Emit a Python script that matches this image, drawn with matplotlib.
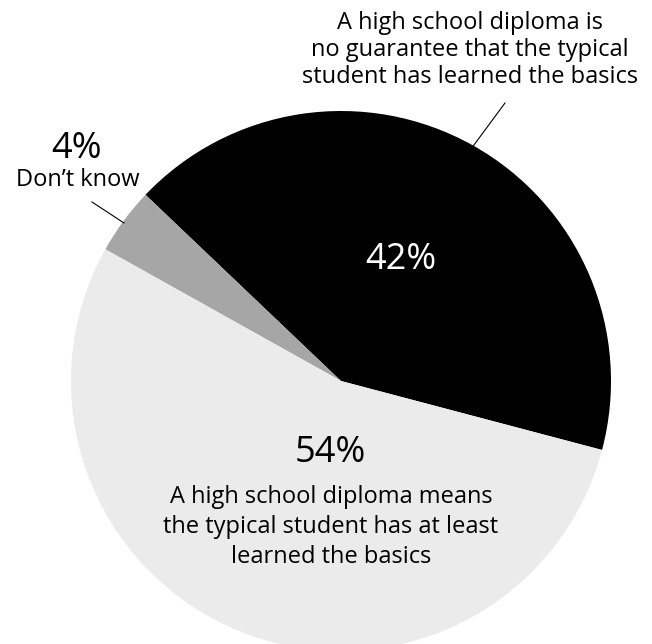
import matplotlib
matplotlib.use("Agg")
import matplotlib.pyplot as plt

# survey answers (percent)
labels = ["A high school diploma is\nno guarantee that the typical\nstudent has learned the basics",
          "Don’t know",
          "A high school diploma means\nthe typical student has at least\nlearned the basics"]
values = [42, 4, 54]
colors = ["#000000", "#a6a6a6", "#ebebeb"]

plt.rcParams['font.family'] = ['Open Sans', 'DejaVu Sans']

W, H = 652, 644
fig = plt.figure(figsize=(W / 100, H / 100), dpi=100)
ax = fig.add_axes([0, 0, 1, 1])

cx, cy, r = 341, H - 381, 270
ax.pie(values, colors=colors, startangle=-14.8, counterclock=True,
       center=(cx, cy), radius=r, wedgeprops=dict(linewidth=0))
ax.set_xlim(0, W)
ax.set_ylim(0, H)
ax.set_aspect('equal')
ax.axis('off')

big = 26
small = 17

# black slice
ax.text(401, H - 260, f"{values[0]}%", color="white", fontsize=big,
        ha="center", va="center")
ax.text(470, H - 50, labels[0], fontsize=small, ha="center", va="center",
        linespacing=1.15)
ax.plot([505, 471], [H - 103, H - 149], color="black", lw=0.8)

# don't know
ax.text(77, H - 149, f"{values[1]}%", fontsize=big, ha="center", va="center")
ax.text(78, H - 180, labels[1], fontsize=small, ha="center", va="center")
ax.plot([92, 124], [H - 202, H - 223], color="black", lw=0.8)

# light slice
ax.text(330, H - 453, f"{values[2]}%", fontsize=big, ha="center", va="center")
ax.text(331, H - 527, labels[2], fontsize=small, ha="center", va="center",
        linespacing=1.33)

fig.savefig("out.png", dpi=100)
